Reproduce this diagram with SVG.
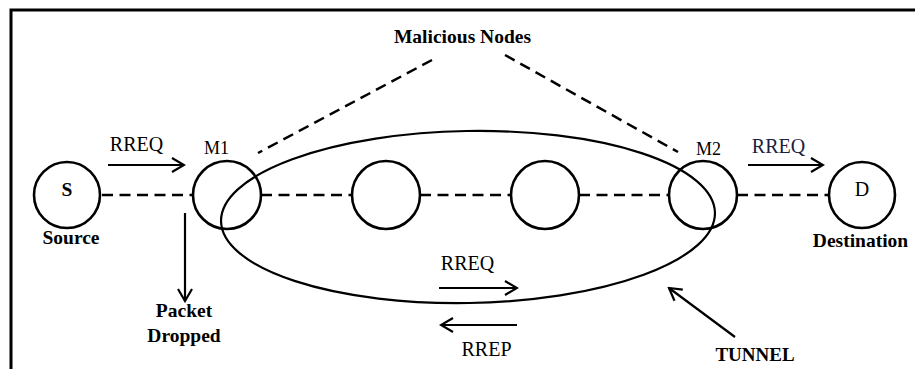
<svg xmlns="http://www.w3.org/2000/svg" width="915" height="369" viewBox="0 0 915 369">
<style>
.node{fill:#fff;stroke:#000;stroke-width:2.6}
.dash{fill:none;stroke:#000;stroke-width:2.5;stroke-dasharray:11 6.5}
.arr{fill:none;stroke:#000;stroke-width:2.2}
.t{font-family:"Liberation Serif","Times New Roman",serif;fill:#000}
.b{font-weight:bold}
.r{font-size:20px}
.bl{font-size:19.5px;font-weight:bold}
</style>
<defs>
<marker id="ah" viewBox="-2 -9 16 18" markerWidth="16" markerHeight="18" refX="12" refY="0" orient="auto" markerUnits="userSpaceOnUse">
<path d="M0,-7 L12,0 L0,7" fill="none" stroke="#000" stroke-width="2.2"/>
</marker>
</defs>
<rect width="915" height="369" fill="#fff"/>
<path d="M11,369 L11,10 L915,10" fill="none" stroke="#000" stroke-width="3"/>
<g id="connectors">
<line class="dash" x1="102" y1="195" x2="193" y2="195"/>
<line class="dash" x1="261" y1="195" x2="352" y2="195"/>
<line class="dash" x1="420" y1="195" x2="511" y2="195"/>
<line class="dash" x1="579" y1="195" x2="669" y2="195"/>
<line class="dash" x1="737" y1="195" x2="829" y2="195"/>
<line class="dash" x1="432" y1="60" x2="258" y2="153"/>
<line class="dash" x1="505" y1="55" x2="678" y2="152"/>
<ellipse id="tunnel" cx="468" cy="217" rx="247" ry="86" transform="rotate(-1 468 217)" fill="none" stroke="#000" stroke-width="2.2"/>
<line class="arr" x1="108" y1="165" x2="184" y2="165" marker-end="url(#ah)"/>
<line class="arr" x1="748" y1="165" x2="823" y2="165" marker-end="url(#ah)"/>
<line class="arr" x1="185" y1="213" x2="185" y2="301" marker-end="url(#ah)"/>
<line class="arr" x1="439" y1="288" x2="517" y2="288" marker-end="url(#ah)"/>
<line class="arr" x1="517" y1="325" x2="441" y2="325" marker-end="url(#ah)"/>
<line class="arr" x1="735" y1="337" x2="669" y2="288" marker-end="url(#ah)"/>
</g>
<g id="S">
<circle class="node" cx="67" cy="195" r="33"/>
<text class="t bl" x="67" y="196" text-anchor="middle">S</text>
<text class="t bl" x="71" y="244" text-anchor="middle">Source</text>
</g>
<g id="M1">
<circle class="node" cx="227" cy="195" r="34" fill="none" style="fill:none"/>
<text class="t" x="216.5" y="154" text-anchor="middle" font-size="18">M1</text>
</g>
<g id="N1">
<circle class="node" cx="386" cy="195" r="34"/>
</g>
<g id="N2">
<circle class="node" cx="545" cy="195" r="34"/>
</g>
<g id="M2">
<circle class="node" cx="703" cy="195" r="34" style="fill:none"/>
<text class="t" x="708.5" y="155" text-anchor="middle" font-size="18">M2</text>
</g>
<g id="D">
<circle class="node" cx="862" cy="195" r="33"/>
<text class="t r" x="862" y="196" text-anchor="middle">D</text>
<text class="t bl" x="860.5" y="247" text-anchor="middle">Destination</text>
</g>
<g id="labels">
<text class="t" x="462.5" y="43" text-anchor="middle" font-size="19.5" font-weight="bold">Malicious Nodes</text>
<text class="t r" x="136.5" y="151" text-anchor="middle">RREQ</text>
<text class="t r" x="778.5" y="153" text-anchor="middle" style="fill:#1a2040">RREQ</text>
<text class="t bl" x="184" y="317" text-anchor="middle">Packet</text>
<text class="t bl" x="184" y="342" text-anchor="middle">Dropped</text>
<text class="t r" x="467.5" y="270" text-anchor="middle">RREQ</text>
<text class="t r" x="486.5" y="356" text-anchor="middle">RREP</text>
<text class="t" x="755" y="361" text-anchor="middle" font-size="19" font-weight="bold">TUNNEL</text>
</g>
</svg>
